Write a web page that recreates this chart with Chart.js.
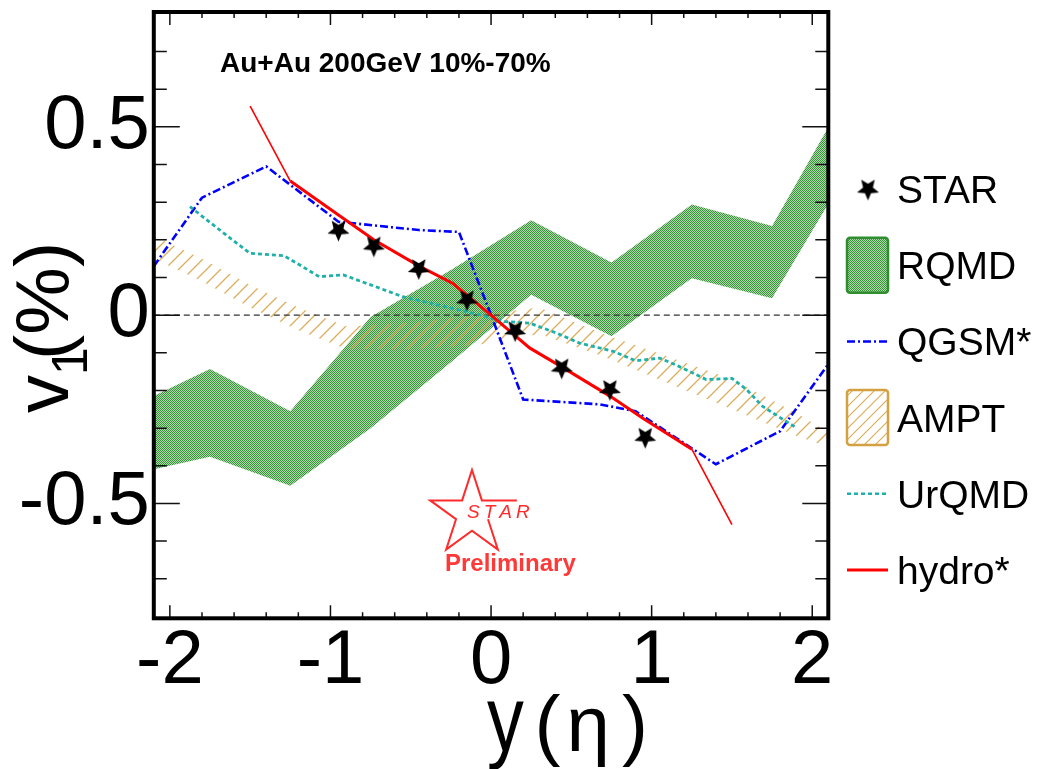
<!DOCTYPE html>
<html>
<head>
<meta charset="utf-8">
<title>v1 vs rapidity</title>
<script src="https://cdn.jsdelivr.net/npm/chart.js@4.4.0/dist/chart.umd.min.js"></script>
<style>
  html, body { margin: 0; padding: 0; background: #fff; }
  #wrap { width: 1042px; height: 769px; }
</style>
</head>
<body>
<div id="wrap"><canvas id="v1Chart" width="1042" height="769"></canvas></div>
<script>
// --- Data ---
const starEta = [-0.95, -0.73, -0.45, -0.15, 0.15, 0.44, 0.74, 0.96];
const starV1  = [0.226, 0.184, 0.124, 0.041, -0.041, -0.140, -0.197, -0.324];

const hydroEta = [-1.5, -1.25, -0.95, -0.73, -0.45, -0.24, 0, 0.24, 0.45, 0.74, 0.95, 1.25, 1.5];
const hydroV1  = [0.555, 0.356, 0.266, 0.200, 0.131, 0.085, 0, -0.087, -0.140, -0.215, -0.275, -0.356, -0.556];

const qgsmEta = [-2.1, -1.8, -1.4, -0.95, -0.45, -0.2, 0, 0.2, 0.68, 0.9, 1.4, 1.8, 2.1];
const qgsmV1  = [0.13, 0.312, 0.395, 0.248, 0.226, 0.221, 0, -0.224, -0.237, -0.255, -0.396, -0.308, -0.13];

const urqmdEta = [-1.875, -1.65, -1.5, -1.29, -1.19, -1.07, -0.92, -0.69, -0.55, -0.38, -0.11,
                  0.085, 0.24, 0.41, 0.55, 0.76, 0.9, 1.05, 1.17, 1.34, 1.5, 1.59, 1.69, 1.8, 1.9];
const urqmdV1  = [0.288, 0.213, 0.164, 0.158, 0.133, 0.102, 0.107, 0.071, 0.049, 0.032, 0.005,
                  -0.017, -0.021, -0.048, -0.074, -0.096, -0.121, -0.114, -0.136, -0.171, -0.168, -0.197, -0.242, -0.272, -0.299];

const rqmdEta  = [-2.1, -1.75, -1.25, -0.75, -0.25, 0.25, 0.75, 1.25, 1.75, 2.1];
const rqmdHigh = [-0.215, -0.143, -0.255, -0.005, 0.12, 0.252, 0.14, 0.294, 0.237, 0.499];
const rqmdLow  = [-0.409, -0.376, -0.453, -0.30, -0.125, 0.054, -0.056, 0.098, 0.045, 0.296];

const amptEta  = [-2.1, -1.8, -1.5, -1.2, -0.9, -0.5, -0.1, 0.3, 0.7, 1.1, 1.5, 1.9, 2.1];
const amptHigh = [0.21, 0.15, 0.08, 0.02, -0.03, -0.02, 0.0, 0.02, -0.05, -0.11, -0.17, -0.26, -0.31];
const amptLow  = [0.15, 0.09, 0.02, -0.04, -0.09, -0.09, -0.08, -0.05, -0.11, -0.18, -0.25, -0.32, -0.35];

const zeroEta = [-2.1, 2.1];
const zeroV1  = [0, 0];

const xTickValues = [-2, -1, 0, 1, 2];
const yTickValues = [-0.5, 0, 0.5];
const legendLabels = ['STAR', 'RQMD', 'QGSM*', 'AMPT', 'UrQMD', 'hydro*'];

// --- Helpers ---
const FONT = '"Liberation Sans", Arial, Helvetica, sans-serif';

function pts(xs, ys) {
    return xs.map((x, i) => ({ x: x, y: ys[i] }));
}

// fine green stipple used by the RQMD band
function makeStipple() {
    const c = document.createElement('canvas');
    c.width = 2; c.height = 2;
    const g = c.getContext('2d');
    g.fillStyle = '#b0d9b0';
    g.fillRect(0, 0, 2, 2);
    g.fillStyle = '#359235';
    g.fillRect(0, 0, 1, 1);
    g.fillRect(1, 1, 1, 1);
    return g.createPattern(c, 'repeat');
}

// diagonal hatch for the AMPT band
function makeHatch(step, width) {
    const c = document.createElement('canvas');
    c.width = step; c.height = step;
    const g = c.getContext('2d');
    g.strokeStyle = '#dcae5c';
    g.lineWidth = width;
    g.beginPath();
    g.moveTo(0, step); g.lineTo(step, 0);
    g.moveTo(-step / 2, step / 2); g.lineTo(step / 2, -step / 2);
    g.moveTo(step / 2, step * 1.5); g.lineTo(step * 1.5, step / 2);
    g.stroke();
    return g.createPattern(c, 'repeat');
}

// filled five-point star marker, one point facing down
function makeStar(r) {
    const size = Math.ceil(r * 2 + 2);
    const c = document.createElement('canvas');
    c.width = size; c.height = size;
    const g = c.getContext('2d');
    g.translate(size / 2, size / 2);
    g.beginPath();
    for (let k = 0; k < 10; k++) {
        const rad = k % 2 === 0 ? r : r * 0.45;
        const a = Math.PI / 2 + k * Math.PI / 5;
        g.lineTo(rad * Math.cos(a), rad * Math.sin(a));
    }
    g.closePath();
    g.fillStyle = '#000';
    g.fill();
    return c;
}

const stipple = makeStipple();
const hatch = makeHatch(14, 1.3);
const legendHatch = makeHatch(11, 1.2);
const starMarker = makeStar(11.5);

const QGSM_DASH = [8, 3, 2, 3];
const URQMD_DASH = [4, 3];

// --- Frame, ticks, titles, logo and legend ---
const rootStylePlugin = {
    id: 'rootStyle',
    afterDatasetsDraw(chart) {
        const { ctx, chartArea: a, scales: { x, y } } = chart;
        ctx.save();

        // inward ticks on all four sides
        ctx.strokeStyle = '#111';
        ctx.lineWidth = 1.5;
        ctx.beginPath();
        for (let k = -10; k <= 10; k++) {
            const px = x.getPixelForValue(k * 0.2);
            const len = k % 5 === 0 ? 13 : 6;
            ctx.moveTo(px, a.bottom); ctx.lineTo(px, a.bottom - len);
            ctx.moveTo(px, a.top); ctx.lineTo(px, a.top + len);
        }
        for (let k = -7; k <= 7; k++) {
            const py = y.getPixelForValue(k * 0.1);
            const len = k % 5 === 0 ? 26 : 13;
            ctx.moveTo(a.left, py); ctx.lineTo(a.left + len, py);
            ctx.moveTo(a.right, py); ctx.lineTo(a.right - len, py);
        }
        ctx.stroke();

        // thick frame
        ctx.strokeStyle = '#000';
        ctx.lineWidth = 4;
        ctx.strokeRect(a.left, a.top, a.right - a.left, a.bottom - a.top);

        // header text
        ctx.fillStyle = '#000';
        ctx.textBaseline = 'alphabetic';
        ctx.textAlign = 'left';
        ctx.font = 'bold 28px ' + FONT;
        ctx.fillText('Au+Au 200GeV 10%-70%', 220, 71.5);

        // STAR Preliminary logo
        const cx = 472, cy = 514, R = 44, r = R * 0.382;
        const vtx = [];
        for (let k = 0; k < 10; k++) {
            const rad = k % 2 === 0 ? R : r;
            const ang = -Math.PI / 2 + k * Math.PI / 5;
            vtx.push([cx + rad * Math.cos(ang), cy + rad * Math.sin(ang)]);
        }
        ctx.strokeStyle = '#ff2a2a';
        ctx.lineWidth = 2;
        ctx.lineJoin = 'miter';
        ctx.beginPath();
        ctx.moveTo(vtx[2][0] + 3, vtx[2][1]);
        const order = [1, 0, 9, 8, 7, 6, 5, 4, 3];
        order.forEach(i => ctx.lineTo(vtx[i][0], vtx[i][1]));
        ctx.stroke();
        ctx.fillStyle = '#ff2a2a';
        ctx.font = 'italic 19px ' + FONT;
        let sx = 467;
        for (const ch of 'STAR') {
            ctx.fillText(ch, sx, 518);
            sx += ctx.measureText(ch).width + 4;
        }
        ctx.fillStyle = '#ff3838';
        ctx.font = 'bold 24px ' + FONT;
        ctx.fillText('Preliminary', 445, 571);

        // y axis title v_1(%)
        ctx.fillStyle = '#000';
        ctx.save();
        ctx.translate(68, 413);
        ctx.rotate(-Math.PI / 2);
        ctx.font = '76px ' + FONT;
        ctx.fillText('v', 0, 0);
        ctx.font = '50px ' + FONT;
        ctx.fillText('1', 38, 19);
        ctx.font = '76px ' + FONT;
        ctx.fillText('(%)', 53, 0);
        ctx.restore();

        // x axis title y (eta)
        ctx.save();
        ctx.translate(487, 751);
        ctx.scale(0.8, 1);
        ctx.font = '92px ' + FONT;
        ctx.fillText('y', 0, 0);
        ctx.restore();
        ctx.font = '78px ' + FONT;
        ctx.fillText('(', 534.5, 751);
        ctx.fillText('\u03b7', 566.5, 751);
        ctx.fillText(')', 622, 751);

        // legend
        const ds = chart.data.datasets;
        const rowY = i => 189 + i * 76.2;
        const symL = 847, symR = 888;
        legendLabels.forEach((label, i) => {
            const yy = rowY(i);
            if (label === 'STAR') {
                ctx.drawImage(starMarker, 868 - starMarker.width / 2, yy - starMarker.height / 2);
            } else if (label === 'RQMD' || label === 'AMPT') {
                ctx.beginPath();
                ctx.roundRect(symL, yy - 27.5, symR - symL, 55, 3);
                ctx.fillStyle = label === 'RQMD' ? stipple : legendHatch;
                ctx.fill();
                ctx.lineWidth = 2.5;
                ctx.strokeStyle = label === 'RQMD' ? '#2f8f2f' : '#d4a040';
                ctx.stroke();
            } else {
                const d = ds.find(s => s.label === label);
                ctx.beginPath();
                ctx.setLineDash(d.borderDash || []);
                ctx.lineWidth = label === 'hydro*' ? 3 : 2.5;
                ctx.strokeStyle = d.borderColor;
                ctx.moveTo(symL, yy);
                ctx.lineTo(symR, yy);
                ctx.stroke();
                ctx.setLineDash([]);
            }
            ctx.fillStyle = '#000';
            ctx.font = '39px ' + FONT;
            ctx.fillText(label, 897, yy + 14);
        });

        ctx.restore();
    }
};

// --- Chart ---
Chart.defaults.font.family = FONT;
Chart.defaults.color = '#000';

const chartCtx = document.getElementById('v1Chart').getContext('2d');

// keep the axes from reserving extra room for their outermost labels
function noScalePadding(s) {
    s.paddingTop = 0;
    s.paddingBottom = 0;
    s.paddingLeft = 0;
    s.paddingRight = 0;
}

new Chart(chartCtx, {
    type: 'line',
    data: {
        datasets: [
            {
                label: 'STAR',
                data: pts(starEta, starV1),
                showLine: false,
                pointStyle: starMarker,
                pointRadius: 11,
                borderColor: '#000',
                backgroundColor: '#000'
            },
            {
                label: 'hydro*',
                data: pts(hydroEta, hydroV1),
                borderColor: '#ff0000',
                borderWidth: 3,
                pointRadius: 0,
                fill: false,
                segment: {
                    borderWidth: c => (Math.abs(c.p0.parsed.x) > 1.24 && Math.abs(c.p1.parsed.x) > 1.24) ? 1.6 : 3
                }
            },
            {
                label: 'UrQMD',
                data: pts(urqmdEta, urqmdV1),
                borderColor: '#1fb0aa',
                borderWidth: 2.8,
                borderDash: URQMD_DASH,
                pointRadius: 0,
                fill: false
            },
            {
                label: 'QGSM*',
                data: pts(qgsmEta, qgsmV1),
                borderColor: '#0000ff',
                borderWidth: 2.6,
                borderDash: QGSM_DASH,
                pointRadius: 0,
                fill: false
            },
            {
                label: 'zero',
                data: pts(zeroEta, zeroV1),
                borderColor: '#333',
                borderWidth: 1.2,
                borderDash: [6, 4],
                pointRadius: 0,
                fill: false
            },
            {
                label: 'AMPT',
                data: pts(amptEta, amptHigh),
                borderColor: 'rgba(0,0,0,0)',
                borderWidth: 0,
                pointRadius: 0,
                backgroundColor: hatch,
                fill: '+1'
            },
            {
                label: 'AMPT low',
                data: pts(amptEta, amptLow),
                borderColor: 'rgba(0,0,0,0)',
                borderWidth: 0,
                pointRadius: 0,
                fill: false
            },
            {
                label: 'RQMD',
                data: pts(rqmdEta, rqmdHigh),
                borderColor: 'rgba(0,0,0,0)',
                borderWidth: 0,
                pointRadius: 0,
                backgroundColor: stipple,
                fill: '+1'
            },
            {
                label: 'RQMD low',
                data: pts(rqmdEta, rqmdLow),
                borderColor: 'rgba(0,0,0,0)',
                borderWidth: 0,
                pointRadius: 0,
                fill: false
            }
        ]
    },
    options: {
        responsive: false,
        animation: false,
        layout: { padding: { top: 8.7, right: 213.7, left: 0, bottom: 0 } },
        elements: { line: { tension: 0 } },
        plugins: {
            legend: { display: false },
            tooltip: { enabled: false }
        },
        scales: {
            x: {
                type: 'linear',
                min: -2.1,
                max: 2.1,
                grid: { display: false, drawTicks: false },
                border: { display: false },
                afterBuildTicks: s => { s.ticks = xTickValues.map(v => ({ value: v })); },
                afterFit: s => { s.height = 150.7; noScalePadding(s); },
                ticks: {
                    autoSkip: false,
                    maxRotation: 0,
                    minRotation: 0,
                    padding: 6,
                    font: { size: 76, lineHeight: 1 },
                    callback: v => String(v)
                }
            },
            y: {
                type: 'linear',
                min: -0.805,
                max: 0.805,
                grid: { display: false, drawTicks: false },
                border: { display: false },
                afterBuildTicks: s => { s.ticks = yTickValues.map(v => ({ value: v })); },
                afterFit: s => { s.width = 153.8; noScalePadding(s); },
                ticks: {
                    autoSkip: false,
                    padding: 4,
                    font: { size: 76, lineHeight: 1 },
                    callback: v => String(v)
                }
            }
        }
    },
    plugins: [rootStylePlugin]
});
</script>
</body>
</html>
